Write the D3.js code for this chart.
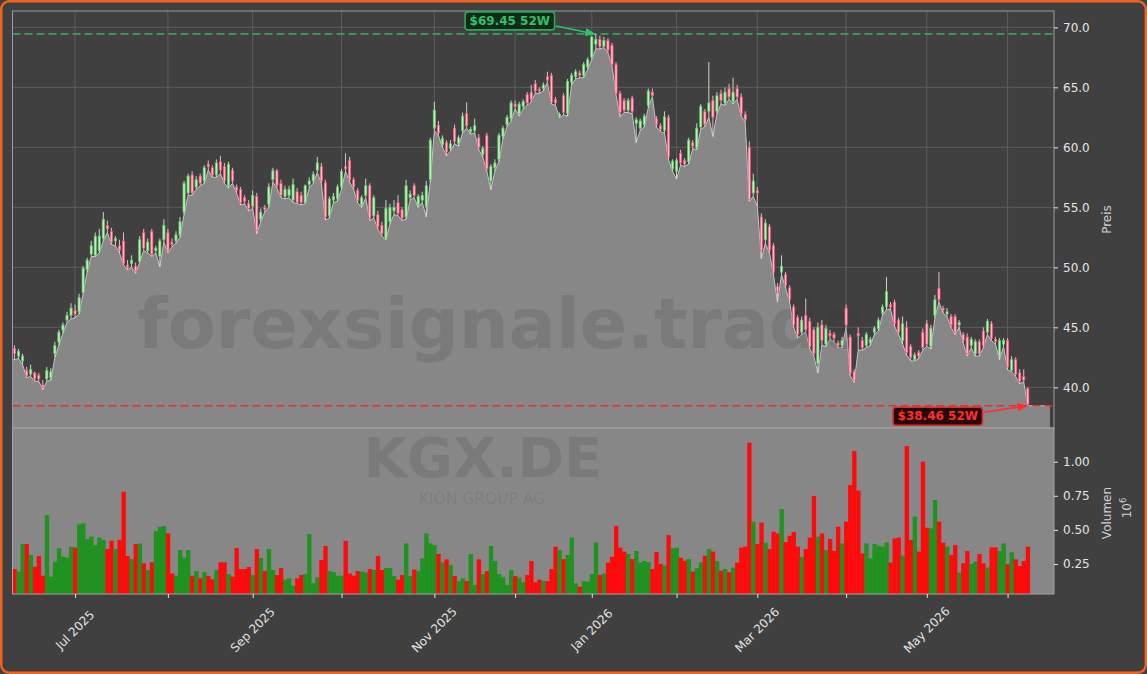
<!DOCTYPE html>
<html><head><meta charset="utf-8">
<script src="https://cdn.jsdelivr.net/npm/d3@7/dist/d3.min.js"></script>
<style>
html,body{margin:0;padding:0;background:#404040;}
svg{display:block;font-family:"DejaVu Sans",sans-serif;}
</style>
</head><body>
<svg id="chart" width="1147" height="674"></svg>
<script>
// ---------------- DATA ----------------
const ticker = "KGX.DE";
const companyName = "KION GROUP AG";
const watermark = "forexsignale.trade";
const firstDay = "2025-06-10";
const lastDay = "2026-06-08";
const exchangeHolidays = ["2025-12-24","2025-12-25","2025-12-26","2025-12-31","2026-01-01","2026-04-03","2026-04-06","2026-05-01"];
const labeledMonths = ["Jul 2025","Sep 2025","Nov 2025","Jan 2026","Mar 2026","May 2026"];
const priceTicks = [40,45,50,55,60,65,70];
const volumeTicks = [250000,500000,750000,1000000];

const openP = [
43.25,42.6,42.2,41.4,41.1,41.2,41.0,40.2,40.7,40.8,
42.8,43.75,44.75,45.6,46.0,46.4,46.3,47.9,49.8,51.1,
51.0,51.4,52.4,53.5,53.0,52.2,51.8,52.2,50.2,50.3,
50.1,50.5,52.9,51.4,53.0,51.4,50.9,52.3,52.9,52.1,
52.2,52.7,54.6,56.2,57.7,56.7,57.6,57.2,58.6,58.3,
57.7,58.8,58.4,56.8,58.1,56.7,56.5,55.8,55.3,55.1,
55.9,54.0,55.0,55.25,57.3,58.05,57.0,55.9,56.0,55.6,
56.3,56.0,55.4,56.9,57.2,58.1,58.4,57.05,54.3,55.6,
55.7,56.7,58.4,58.9,57.3,56.4,55.2,56.0,56.8,54.3,
54.4,53.5,52.4,53.8,54.7,55.4,54.8,54.2,55.8,56.8,
55.2,55.6,55.05,57.3,61.6,61.85,60.2,60.4,59.9,61.6,
60.3,61.4,62.8,61.3,61.4,60.8,59.4,61.0,57.2,58.3,
59.0,60.9,61.9,62.4,63.6,62.8,63.4,64.4,64.6,65.3,
64.85,64.9,65.9,66.0,64.0,62.55,64.3,62.8,65.4,65.9,
66.2,66.0,66.7,67.5,68.6,69.0,68.4,68.9,68.5,66.9,
64.5,63.9,63.1,64.1,62.0,61.6,61.9,63.5,64.6,62.4,
61.8,61.4,62.5,58.2,58.0,59.5,58.9,58.8,60.4,60.0,
61.7,63.0,63.0,63.9,63.0,64.5,63.7,64.9,63.8,64.9,
64.2,62.75,60.0,56.2,56.4,54.2,52.3,53.4,51.8,48.4,
49.6,49.4,48.3,46.7,45.8,44.6,46.0,45.5,44.8,42.0,
45.2,43.6,44.5,44.4,43.7,43.5,46.6,44.2,41.3,44.5,
43.9,43.5,43.7,44.6,44.9,46.2,46.7,46.9,47.1,45.6,
43.9,45.0,43.4,42.3,42.9,44.6,45.3,43.4,46.0,48.25,
46.6,46.1,45.9,45.9,45.2,44.4,44.2,43.5,42.8,43.8,
44.7,44.6,45.3,44.0,42.6,43.6,43.9,41.4,42.3,41.2,
40.9,39.9];
const highP = [
43.5,43.2,42.8,41.7,41.9,41.3,41.2,40.6,41.7,41.6,
43.8,44.8,45.4,46.3,47.0,46.9,47.8,50.1,50.8,52.2,
52.9,53.2,54.6,53.9,53.3,52.6,52.3,52.9,50.6,51.0,
50.4,52.6,53.2,52.4,53.2,51.8,52.4,54.0,53.2,52.4,
53.0,54.2,57.2,57.8,58.0,57.6,57.8,58.5,58.9,58.5,
59.0,59.3,58.7,58.8,58.3,56.9,56.7,56.0,55.6,56.4,
56.2,54.9,55.2,57.0,58.3,58.2,57.3,56.8,56.8,57.4,
56.6,56.3,56.9,57.5,58.0,59.2,58.7,57.3,55.9,56.2,
56.9,58.2,59.5,59.2,57.5,56.6,56.0,57.4,57.0,56.0,
54.7,53.8,55.6,55.3,55.6,56.0,55.0,57.3,56.4,57.0,
56.1,56.3,57.2,60.8,63.8,62.2,61.0,60.6,60.6,61.9,
61.0,62.9,63.75,61.7,62.4,61.1,60.1,61.2,58.6,59.0,
61.2,61.8,62.7,63.9,63.9,63.8,64.0,64.6,65.2,65.6,
65.0,65.4,66.3,66.2,64.2,62.9,64.5,65.7,66.2,66.5,
66.4,67.1,67.5,69.3,69.45,69.3,69.2,69.1,68.7,67.1,
64.7,64.1,64.1,64.3,62.5,62.4,62.8,64.9,64.9,62.6,
62.0,63.0,62.7,59.0,59.1,59.8,59.1,60.8,60.6,62.0,
63.6,63.2,67.1,64.3,64.6,64.8,65.0,65.3,65.8,65.2,
64.5,63.0,60.5,57.8,56.7,54.5,54.0,53.6,52.0,48.7,
51.0,49.6,48.5,46.9,46.0,45.9,47.4,45.8,45.0,45.4,
45.6,45.2,44.8,44.6,43.9,44.2,46.9,44.4,41.5,45.0,
44.2,44.6,44.2,45.1,45.8,46.9,49.2,47.1,47.3,45.8,
45.9,45.5,43.6,42.9,43.1,44.9,45.6,45.2,47.7,49.6,
46.8,46.6,46.1,46.1,45.6,44.6,44.5,44.2,44.0,44.0,
45.0,45.7,45.5,44.2,44.1,44.1,44.1,42.6,42.5,41.5,
41.5,40.0];
const lowP = [
42.3,42.4,41.9,40.8,40.9,40.5,40.5,39.8,40.5,40.6,
42.5,43.5,44.5,45.4,45.7,45.8,46.1,47.8,49.6,50.9,
50.9,51.2,52.2,52.9,51.9,51.8,51.2,50.2,49.8,50.0,
49.5,50.4,51.4,51.2,50.9,51.2,50.05,52.1,51.2,51.7,
52.0,52.5,54.4,56.0,56.0,56.5,56.8,57.0,58.1,57.5,
57.5,57.8,57.0,56.6,57.0,56.2,55.2,55.3,54.7,54.9,
52.8,53.8,54.6,55.0,57.1,56.6,55.8,55.7,55.8,55.4,
55.3,55.2,55.3,56.6,57.0,57.9,57.0,53.94,54.1,55.4,
55.5,56.5,58.0,57.1,56.5,55.4,55.0,55.8,53.9,54.1,
53.2,52.6,52.3,53.6,54.4,54.3,53.9,54.0,55.6,55.8,
55.0,55.4,54.2,57.1,61.4,61.0,60.0,59.3,59.7,60.3,
60.1,61.2,61.6,61.1,61.2,59.8,59.2,58.0,56.45,58.0,
58.8,60.7,61.7,62.2,63.2,62.6,63.2,63.5,63.8,64.5,
64.5,64.7,65.4,63.6,63.5,62.45,62.7,62.6,65.2,65.7,
65.8,65.8,66.5,67.3,68.2,68.2,68.3,67.9,66.8,64.4,
62.55,62.9,62.9,62.8,60.4,61.4,61.7,63.3,64.2,61.7,
61.3,61.2,59.0,58.0,57.35,58.5,58.4,58.6,59.9,59.8,
61.5,61.7,62.5,60.9,62.8,63.6,63.5,64.0,63.6,64.0,
62.6,62.1,55.5,55.9,55.1,50.7,52.0,51.2,49.4,47.1,
49.4,48.3,47.1,45.0,44.1,44.4,44.6,43.2,42.6,41.2,
43.5,43.4,44.0,43.8,43.3,43.3,45.0,41.0,40.4,43.1,
43.1,43.3,43.5,44.4,44.7,46.0,46.5,46.5,45.1,44.4,
43.6,42.7,42.2,42.2,42.4,43.1,43.4,43.2,45.8,47.1,
46.2,45.9,45.0,44.4,45.0,43.7,42.6,43.3,42.6,42.6,
43.3,44.4,43.9,43.6,42.3,43.4,41.45,41.3,40.9,40.3,
40.45,38.46];
const closeP = [
42.8,43.0,42.6,40.95,41.5,40.7,40.7,40.0,41.4,41.3,
43.5,44.6,45.2,46.0,46.6,46.1,47.5,49.9,50.6,51.8,
52.6,52.6,54.0,53.2,52.1,52.4,51.4,50.3,50.0,50.6,
49.7,52.3,51.6,52.1,51.1,51.6,52.2,53.5,51.4,51.9,
52.7,53.8,57.0,57.6,56.2,57.3,57.0,58.3,58.4,57.7,
58.7,58.1,57.2,58.6,57.2,56.4,55.4,55.5,54.9,56.0,
53.1,54.6,54.8,56.7,58.05,56.8,56.0,56.5,56.5,56.9,
55.4,55.4,56.8,57.2,57.75,58.7,57.2,54.2,55.7,55.9,
56.7,58.0,58.2,57.3,56.7,55.6,55.8,56.8,54.1,55.8,
53.4,52.8,54.9,55.0,55.0,54.5,54.1,56.8,56.1,56.0,
55.9,56.0,56.8,60.6,63.1,61.2,60.75,59.6,60.3,60.5,
60.8,62.6,61.8,61.5,61.8,60.0,59.9,58.2,58.4,58.7,
61.0,61.6,62.5,63.7,63.4,63.6,63.8,63.7,64.0,64.7,
64.7,65.2,65.6,63.75,63.7,62.75,62.9,65.5,66.0,66.3,
66.0,66.9,67.3,69.2,69.0,68.4,68.9,68.1,66.9,64.5,
62.9,63.1,63.9,63.0,62.3,62.2,62.6,64.7,64.3,61.9,
61.5,62.55,59.2,58.85,58.9,58.7,58.6,60.6,60.1,61.6,
63.4,61.9,63.7,62.5,64.3,63.9,64.6,64.2,64.6,64.2,
62.8,62.3,55.67,57.2,56.2,51.4,53.7,51.4,49.6,48.0,
50.1,48.5,47.3,45.2,44.4,45.6,44.8,43.4,42.8,45.0,
43.9,44.9,44.3,44.1,43.5,43.9,45.2,41.2,40.6,44.3,
43.3,44.4,44.0,44.9,45.6,46.7,48.0,46.7,45.3,44.6,
45.3,42.9,42.5,42.7,42.6,43.3,43.6,44.9,47.3,47.3,
46.4,46.3,45.2,44.6,45.4,43.9,42.8,44.0,43.8,42.8,
43.5,45.5,44.1,43.8,43.9,43.9,41.7,42.3,41.1,40.5,
40.6,38.6];
const volume = [
213000,194000,397000,397000,316000,230000,308000,164000,609000,157000,
267000,365000,303000,296000,377000,370000,541000,548000,433000,450000,
389000,443000,426000,360000,420000,360000,426000,780000,308000,286000,
397000,400000,255000,206000,262000,491000,523000,528000,474000,180000,
164000,352000,296000,352000,164000,198000,145000,189000,162000,137000,
206000,262000,262000,176000,157000,367000,213000,213000,228000,169000,
360000,294000,198000,360000,206000,169000,220000,135000,145000,91000,
145000,169000,176000,469000,108000,152000,279000,382000,198000,191000,
164000,164000,420000,180000,164000,198000,194000,187000,213000,206000,
308000,206000,220000,220000,162000,135000,169000,401000,162000,210000,
198000,291000,474000,401000,389000,323000,262000,284000,242000,162000,
125000,145000,125000,323000,96000,284000,176000,198000,382000,272000,
176000,152000,96000,206000,162000,150000,116000,169000,272000,116000,
135000,125000,125000,213000,377000,352000,286000,316000,445000,108000,
83000,125000,120000,176000,408000,169000,180000,260000,303000,528000,
370000,341000,323000,286000,345000,260000,272000,264000,213000,338000,
250000,238000,462000,365000,370000,296000,274000,286000,194000,218000,
262000,311000,360000,341000,272000,201000,213000,189000,223000,260000,
370000,377000,1139000,560000,397000,553000,406000,360000,487000,474000,
653000,411000,457000,484000,377000,303000,360000,443000,749000,450000,
474000,352000,433000,347000,523000,401000,560000,829000,1078000,788000,
328000,401000,291000,397000,384000,377000,408000,260000,438000,443000,
311000,1115000,426000,597000,341000,1000000,516000,511000,719000,560000,
406000,377000,316000,389000,187000,255000,345000,250000,267000,323000,
255000,223000,372000,372000,345000,401000,248000,336000,284000,235000,
272000,377000];

// ---------------- TRADING CALENDAR ----------------
function tradingDays(from, to, holidays){
  const out=[]; let d=new Date(from+"T00:00:00Z"); const end=new Date(to+"T00:00:00Z");
  while(d<=end){
    const w=d.getUTCDay(), s=d.toISOString().slice(0,10);
    if(w!==0 && w!==6 && !holidays.includes(s)) out.push(new Date(d));
    d=new Date(d.getTime()+86400000);
  }
  return out;
}
const dates = tradingDays(firstDay, lastDay, exchangeHolidays);
const n = closeP.length;
const idx = d3.range(n);
const fmtMonth = d3.utcFormat("%b %Y");
const monthStarts = idx.filter(i => i>0 && dates[i] && dates[i].getUTCMonth() !== dates[i-1].getUTCMonth());

// ---------------- LAYOUT ----------------
const svg = d3.select("#chart");
const W = 1147, H = 674;
const P = {l:12.5, r:1054, t:11, b:428};
const V = {t:428, b:594};
const x = d3.scaleLinear().domain([-0.5, n + 5.5]).range([P.l, P.r]);
const y = d3.scaleLinear().domain([36.61, 71.36]).range([P.b, P.t]);
const yv = d3.scaleLinear().domain([30000, 1247000]).range([V.b, V.t]);
const step = x(1) - x(0);

svg.append("rect").attr("x",1.2).attr("y",1.2).attr("width",W-2.4).attr("height",H-2.4)
  .attr("rx",8).attr("fill","#404040").attr("stroke","#f0641e").attr("stroke-width",2.4);

const defs = svg.append("defs");
defs.append("clipPath").attr("id","clipP").append("rect")
  .attr("x",P.l).attr("y",P.t).attr("width",P.r-P.l).attr("height",P.b-P.t);
defs.append("clipPath").attr("id","clipV").append("rect")
  .attr("x",P.l).attr("y",V.t).attr("width",P.r-P.l).attr("height",V.b-V.t);
function marker(id,color){
  defs.append("marker").attr("id",id).attr("viewBox","0 0 10 10").attr("refX",9).attr("refY",5)
    .attr("markerWidth",7).attr("markerHeight",7).attr("orient","auto-start-reverse")
    .append("path").attr("d","M0,1 L10,5 L0,9 z").attr("fill",color);
}
marker("arrG","#2fc267"); marker("arrR","#ff2e2e");

// ---------------- PRICE PANEL ----------------
const gp = svg.append("g").attr("clip-path","url(#clipP)");
gp.append("rect").attr("x",P.l).attr("y",P.t).attr("width",P.r-P.l).attr("height",P.b-P.t).attr("fill","#404040");
gp.selectAll("line.hg").data(priceTicks).join("line")
  .attr("x1",P.l).attr("x2",P.r).attr("y1",d=>y(d)).attr("y2",d=>y(d))
  .attr("stroke","#5d5d5d").attr("stroke-width",1);
gp.selectAll("line.vg").data(monthStarts).join("line")
  .attr("x1",d=>x(d)).attr("x2",d=>x(d)).attr("y1",P.t).attr("y2",P.b)
  .attr("stroke","#5d5d5d").attr("stroke-width",1);

// area along the lows
const areaPts = [{i:x.domain()[0], v:lowP[0]}].concat(idx.map(i=>({i, v:lowP[i]})), [{i:n+4.5, v:lowP[n-1]}]);
gp.append("path").datum(areaPts)
  .attr("d", d3.area().x(d=>x(d.i)).y0(P.b).y1(d=>y(d.v)))
  .attr("fill","#878787");
gp.append("path").datum(areaPts)
  .attr("d", d3.line().x(d=>x(d.i)).y(d=>y(d.v)))
  .attr("fill","none").attr("stroke","#c4c4c4").attr("stroke-width",1);

// watermark
gp.append("text").attr("x",502).attr("y",348).attr("text-anchor","middle")
  .attr("font-size",70).attr("font-weight","bold").attr("fill","#383838").attr("fill-opacity",0.16)
  .text(watermark);

// 52W lines
const hi = d3.max(highP), lo = d3.min(lowP);
const hiI = highP.indexOf(hi), loI = lowP.indexOf(lo);
gp.append("line").attr("x1",P.l).attr("x2",P.r).attr("y1",y(hi)).attr("y2",y(hi))
  .attr("stroke","#3c9e60").attr("stroke-width",1.6).attr("stroke-dasharray","8,4");
gp.append("line").attr("x1",P.l).attr("x2",P.r).attr("y1",y(lo)).attr("y2",y(lo))
  .attr("stroke","#dc3434").attr("stroke-width",1.6).attr("stroke-dasharray","8,4");

// candles
const bw = step*0.55;
const up = i => closeP[i] >= openP[i];
gp.selectAll("line.wick").data(idx).join("line")
  .attr("x1",i=>x(i)).attr("x2",i=>x(i)).attr("y1",i=>y(highP[i])).attr("y2",i=>y(lowP[i]))
  .attr("stroke",i=>up(i)?"#d3ecd3":"#f0cdd4").attr("stroke-width",0.9);
gp.selectAll("rect.body").data(idx).join("rect")
  .attr("x",i=>x(i)-bw/2).attr("width",bw)
  .attr("y",i=>y(Math.max(openP[i],closeP[i])))
  .attr("height",i=>Math.max(1, Math.abs(y(openP[i])-y(closeP[i]))))
  .attr("fill",i=>up(i)?"#c4ecc4":"#ffbccb")
  .attr("stroke",i=>up(i)?"#55cf5a":"#ff4870").attr("stroke-width",0.7);

// frame
svg.append("rect").attr("x",P.l).attr("y",P.t).attr("width",P.r-P.l).attr("height",P.b-P.t)
  .attr("fill","none").attr("stroke","#9c9c9c").attr("stroke-width",1);

// ---------------- VOLUME PANEL ----------------
const gv = svg.append("g").attr("clip-path","url(#clipV)");
gv.append("rect").attr("x",P.l).attr("y",V.t).attr("width",P.r-P.l).attr("height",V.b-V.t).attr("fill","#878787");
gv.append("text").attr("x",483).attr("y",477).attr("text-anchor","middle")
  .attr("font-size",56).attr("font-weight","bold").attr("fill","#383838").attr("fill-opacity",0.15).text(ticker);
gv.append("text").attr("x",482).attr("y",504).attr("text-anchor","middle")
  .attr("font-size",15.5).attr("fill","#383838").attr("fill-opacity",0.13).text(companyName);
gv.selectAll("rect.vol").data(idx).join("rect")
  .attr("x",i=>x(i)-step/2).attr("width",step+0.3)
  .attr("y",i=>yv(volume[i])).attr("height",i=>V.b-yv(volume[i]))
  .attr("fill",i=>up(i)?"#1f921f":"#ff0a0a");
svg.append("rect").attr("x",P.l).attr("y",V.t).attr("width",P.r-P.l).attr("height",V.b-V.t)
  .attr("fill","none").attr("stroke","#a6a6a6").attr("stroke-width",1);

// ---------------- AXES ----------------
const tickCol = "#e4e4e4";
const ay = svg.append("g").attr("transform",`translate(${P.r},0)`)
  .call(d3.axisRight(y).tickValues(priceTicks).tickFormat(d3.format(".1f")).tickSize(4).tickPadding(5));
const av = svg.append("g").attr("transform",`translate(${P.r},0)`)
  .call(d3.axisRight(yv).tickValues(volumeTicks).tickFormat(d=>d3.format(".2f")(d/1e6)).tickSize(4).tickPadding(5));
const ax = svg.append("g").attr("transform",`translate(0,${V.b})`)
  .call(d3.axisBottom(x).tickValues(monthStarts).tickFormat("").tickSize(4));
[ay,av,ax].forEach(g=>{
  g.select(".domain").remove();
  g.selectAll(".tick line").attr("stroke",tickCol).attr("stroke-width",1);
  g.selectAll(".tick text").attr("fill",tickCol).attr("font-size",12).attr("font-family","DejaVu Sans");
});
svg.append("g").selectAll("text").data(monthStarts.filter(i=>labeledMonths.includes(fmtMonth(dates[i])))).join("text")
  .attr("transform",i=>`translate(${x(i)},630) rotate(-45)`)
  .attr("text-anchor","middle").attr("dominant-baseline","central")
  .attr("font-size",12).attr("fill",tickCol).text(i=>fmtMonth(dates[i]));

svg.append("text").attr("transform",`translate(1111,${(P.t+P.b)/2}) rotate(-90)`)
  .attr("text-anchor","middle").attr("font-size",12).attr("fill","#cfcfcf").text("Preis");
svg.append("text").attr("transform",`translate(1111,${(V.t+V.b)/2+2}) rotate(-90)`)
  .attr("text-anchor","middle").attr("font-size",12).attr("fill","#cfcfcf").text("Volumen");
const off = svg.append("text").attr("transform",`translate(1131,508) rotate(-90)`)
  .attr("text-anchor","middle").attr("font-size",12).attr("fill","#cfcfcf");
off.append("tspan").text("10");
off.append("tspan").attr("dy",-5).attr("font-size",8.5).text("6");

// ---------------- ANNOTATIONS ----------------
function annotate(label, px, py, dx, dy, col, bg, border, mk){
  const g = svg.append("g");
  const t = g.append("text").attr("x",px+dx).attr("y",py+dy).attr("text-anchor","middle")
    .attr("dominant-baseline","central").attr("font-size",12).attr("font-weight","bold")
    .attr("fill",col).text(label);
  const bb = t.node().getBBox();
  g.insert("rect","text").attr("x",bb.x-4.5).attr("y",bb.y-2).attr("width",bb.width+9).attr("height",bb.height+4)
    .attr("rx",3).attr("fill",bg).attr("stroke",border).attr("stroke-width",1.6);
  const sx = bb.x+bb.width+6, sy = py+dy + (dy<0?5:-4);
  svg.append("line").attr("x1",sx).attr("y1",sy).attr("x2",px-1).attr("y2",py)
    .attr("stroke",col).attr("stroke-width",1.5).attr("marker-end",`url(#${mk})`);
}
annotate(`$${hi.toFixed(2)} 52W`, x(hiI), y(hi), -86, -13, "#2fc267", "#0f2a19", "#2aa85a", "arrG");
annotate(`$${lo.toFixed(2)} 52W`, x(loI), y(lo), -90, 10.5, "#ff2e2e", "#260808", "#e02a2a", "arrR");
</script>
</body></html>
